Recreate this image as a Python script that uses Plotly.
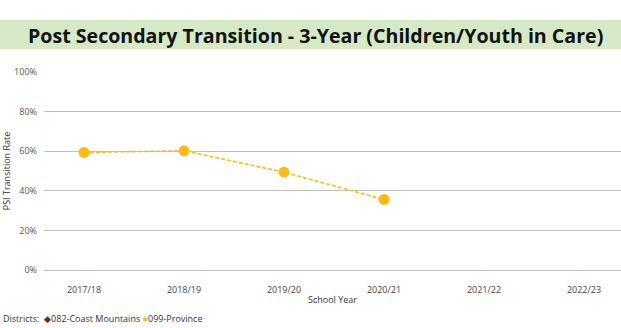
import plotly.graph_objects as go

# School years and transition rates (%)
years = ["2017/18", "2018/19", "2019/20", "2020/21", "2021/22", "2022/23"]
province_rate = [59.4, 60.2, 49.4, 35.6, None, None]
coast_mountains_rate = [None, None, None, None, None, None]

y_ticks = [0, 20, 40, 60, 80, 100]
y_tick_labels = ["0%", "20%", "40%", "60%", "80%", "100%"]

amber = "#FBBA1A"
maroon = "#7B1E28"

W, H = 621, 328
L, R, T, B = 44, 0, 72, 58
plot_w, plot_h = W - L - R, H - T - B


def px_x(x):
    return (x - L) / plot_w


def px_y(y):
    return (H - B - y) / plot_h


fig = go.Figure()

fig.add_trace(go.Scatter(
    x=years, y=coast_mountains_rate, name="082-Coast Mountains",
    mode="lines+markers", showlegend=False,
    marker=dict(symbol="diamond", size=7, color=maroon),
    line=dict(color=maroon, width=1.5),
))

fig.add_trace(go.Scatter(
    x=years, y=province_rate, name="099-Province",
    mode="lines+markers", showlegend=False,
    marker=dict(symbol="circle", size=11, color=amber),
    line=dict(color=amber, width=1.6, dash="4px,2px"),
    connectgaps=False,
))

font_family = "Open Sans, Noto Sans, sans-serif"

legend_text = (
    "Districts:  "
    f"<span style='color:{maroon}'>◆</span>082-Coast Mountains "
    f"<span style='color:{amber}'>●</span>099-Province"
)

fig.update_layout(
    width=W, height=H,
    margin=dict(l=L, r=R, t=T, b=B, autoexpand=False),
    paper_bgcolor="white", plot_bgcolor="white",
    font=dict(family=font_family, size=9, color="#444"),
    showlegend=False,
    xaxis=dict(
        type="category", categoryorder="array", categoryarray=years,
        range=[-0.4, 5.37], showgrid=False, zeroline=False, showline=False,
        ticks="", ticklabelstandoff=13, tickfont=dict(size=9, color="#444"),
        title=dict(text="School Year", font=dict(size=9, color="#333"), standoff=1),
    ),
    yaxis=dict(
        range=[0, 100], tickvals=y_ticks, ticktext=y_tick_labels,
        showgrid=True, gridcolor="#BDBDBD", gridwidth=1,
        zeroline=True, zerolinecolor="#BDBDBD", zerolinewidth=1,
        showline=False, ticks="", ticklabelstandoff=6,
        tickfont=dict(size=9, color="#555"),
        title=dict(text="PSI Transition Rate", font=dict(size=9, color="#333"), standoff=14),
    ),
    shapes=[dict(
        type="rect", xref="paper", yref="paper",
        x0=px_x(0), x1=1.0, y0=px_y(49), y1=px_y(20),
        fillcolor="#D6E9C6", line=dict(width=0), layer="below",
    )],
    annotations=[
        dict(
            text="<b>Post Secondary Transition - 3-Year (Children/Youth in Care)</b>",
            xref="paper", yref="paper", x=px_x(315), y=px_y(35),
            xanchor="center", yanchor="middle", showarrow=False,
            font=dict(family=font_family, size=19.6, color="#111"),
        ),
        dict(
            text=legend_text,
            xref="paper", yref="paper", x=px_x(1), y=px_y(318),
            xanchor="left", yanchor="middle", showarrow=False,
            font=dict(family=font_family, size=9, color="#333"),
        ),
    ],
)

fig.write_html("out.html")
